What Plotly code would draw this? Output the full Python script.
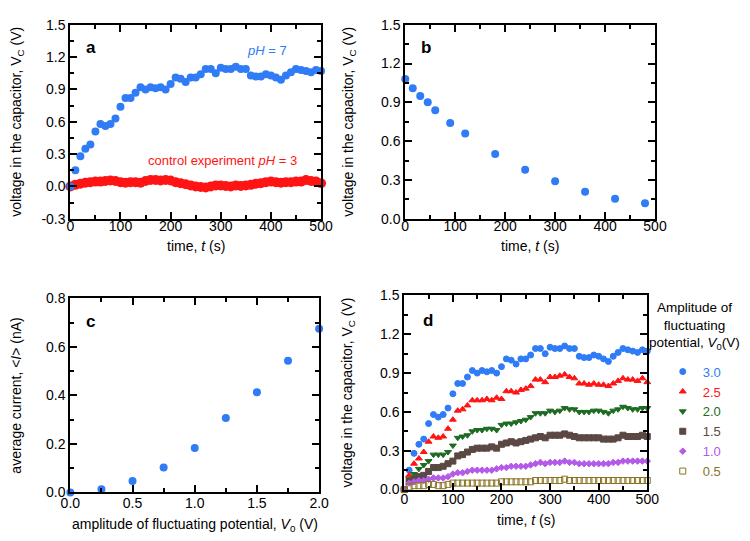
import plotly.graph_objects as go

# ---------------- data ----------------
t10 = list(range(0, 501, 10))

# panel a / d: 3.0 V (pH = 7)
v_30 = [0.0, 0.15, 0.28, 0.35, 0.39, 0.51, 0.58, 0.56, 0.58, 0.63,
        0.74, 0.82, 0.82, 0.87, 0.92, 0.90, 0.92, 0.91, 0.92, 0.90,
        0.95, 1.01, 1.00, 0.97, 1.01, 1.01, 1.04, 1.09, 1.09, 1.05,
        1.10, 1.09, 1.09, 1.11, 1.09, 1.09, 1.03, 1.02, 1.02, 1.04,
        1.03, 1.01, 0.99, 1.03, 1.06, 1.09, 1.08, 1.07, 1.06, 1.08, 1.07]

# panel a: control experiment pH = 3
v_ctrl = [0.0, 0.015, 0.025, 0.035, 0.04, 0.045, 0.045, 0.05, 0.055, 0.05,
          0.04, 0.035, 0.04, 0.04, 0.035, 0.05, 0.06, 0.06, 0.055, 0.06,
          0.055, 0.04, 0.03, 0.02, 0.01, 0.0, -0.005, -0.01, 0.0, 0.01,
          0.01, 0.005, 0.0, 0.01, 0.005, 0.01, 0.015, 0.025, 0.03, 0.04,
          0.045, 0.04, 0.035, 0.04, 0.04, 0.045, 0.045, 0.06, 0.05, 0.045, 0.03]

# panel b: discharge
t_b = [0, 15, 30, 45, 60, 90, 120, 180, 240, 300, 360, 420, 480]
v_b = [1.08, 1.01, 0.95, 0.90, 0.84, 0.74, 0.66, 0.50, 0.38, 0.29, 0.21, 0.155, 0.12]

# panel c: average current vs amplitude
amp_c = [0.0, 0.25, 0.5, 0.75, 1.0, 1.25, 1.5, 1.75, 2.0]
cur_c = [0.0, 0.013, 0.047, 0.103, 0.183, 0.307, 0.413, 0.543, 0.675]

# panel d: other amplitudes
v_25 = [0.0, 0.11, 0.20, 0.24, 0.29, 0.37, 0.41, 0.40, 0.41, 0.47,
        0.54, 0.61, 0.62, 0.65, 0.69, 0.69, 0.69, 0.70, 0.69, 0.71,
        0.70, 0.76, 0.76, 0.75, 0.77, 0.78, 0.80, 0.85, 0.85, 0.83,
        0.87, 0.87, 0.88, 0.89, 0.87, 0.86, 0.82, 0.82, 0.81, 0.82,
        0.81, 0.81, 0.80, 0.82, 0.84, 0.86, 0.85, 0.85, 0.84, 0.86, 0.83]
v_20 = [0.0, 0.08, 0.12, 0.16, 0.19, 0.22, 0.27, 0.27, 0.27, 0.29,
        0.34, 0.40, 0.41, 0.42, 0.45, 0.46, 0.46, 0.47, 0.47, 0.46,
        0.50, 0.51, 0.51, 0.52, 0.53, 0.54, 0.56, 0.59, 0.59, 0.59,
        0.61, 0.60, 0.61, 0.63, 0.62, 0.62, 0.60, 0.60, 0.60, 0.61,
        0.61, 0.60, 0.59, 0.61, 0.62, 0.64, 0.63, 0.62, 0.62, 0.63, 0.63]
v_15 = [0.0, 0.06, 0.08, 0.10, 0.11, 0.14, 0.17, 0.17, 0.18, 0.20,
        0.22, 0.26, 0.27, 0.29, 0.31, 0.32, 0.32, 0.32, 0.33, 0.32,
        0.35, 0.36, 0.37, 0.36, 0.37, 0.38, 0.39, 0.40, 0.41, 0.40,
        0.42, 0.42, 0.42, 0.43, 0.42, 0.41, 0.40, 0.40, 0.40, 0.40,
        0.40, 0.39, 0.39, 0.39, 0.40, 0.42, 0.41, 0.41, 0.41, 0.42, 0.41]
v_10 = [0.0, 0.05, 0.06, 0.07, 0.07, 0.08, 0.09, 0.09, 0.09, 0.10,
        0.12, 0.13, 0.13, 0.14, 0.15, 0.15, 0.15, 0.15, 0.15, 0.16,
        0.17, 0.17, 0.18, 0.18, 0.18, 0.18, 0.19, 0.20, 0.21, 0.20,
        0.21, 0.21, 0.21, 0.22, 0.21, 0.21, 0.20, 0.20, 0.20, 0.20,
        0.20, 0.20, 0.20, 0.21, 0.21, 0.22, 0.22, 0.22, 0.22, 0.22, 0.22]
v_05 = [0.0, 0.02, 0.03, 0.03, 0.03, 0.04, 0.04, 0.03, 0.03, 0.04,
        0.05, 0.05, 0.05, 0.05, 0.05, 0.05, 0.05, 0.05, 0.05, 0.05,
        0.06, 0.06, 0.06, 0.06, 0.06, 0.06, 0.06, 0.07, 0.07, 0.07,
        0.07, 0.07, 0.07, 0.08, 0.07, 0.07, 0.07, 0.07, 0.07, 0.07,
        0.07, 0.07, 0.07, 0.07, 0.07, 0.07, 0.07, 0.07, 0.07, 0.07, 0.07]

legend_labels = ["3.0", "2.5", "2.0", "1.5", "1.0", "0.5"]

ya_vals = [-0.3, 0.0, 0.3, 0.6, 0.9, 1.2, 1.5]
ya_text = ["-0.3", "0.0", "0.3", "0.6", "0.9", "1.2", "1.5"]

# ---------------- styling ----------------
BLUE = "#2f7cf6"
RED = "#ff1414"
GREEN = "#1d6b22"
BROWN = "#5b4843"
PURPLE = "#b459e8"
OLIVE = "#8a7424"
FONT = "Liberation Sans, Arial, sans-serif"

fig = go.Figure()

# panel a
fig.add_trace(go.Scatter(x=t10, y=v_ctrl, mode="markers", xaxis="x", yaxis="y",
                         marker=dict(color=RED, size=10), showlegend=False, cliponaxis=False))
fig.add_trace(go.Scatter(x=t10, y=v_30, mode="markers", xaxis="x", yaxis="y",
                         marker=dict(color=BLUE, size=8), showlegend=False, cliponaxis=False))
# panel b
fig.add_trace(go.Scatter(x=t_b, y=v_b, mode="markers", xaxis="x2", yaxis="y2",
                         marker=dict(color=BLUE, size=8), showlegend=False, cliponaxis=False))
# panel c
fig.add_trace(go.Scatter(x=amp_c, y=cur_c, mode="markers", xaxis="x3", yaxis="y3",
                         marker=dict(color=BLUE, size=8), showlegend=False, cliponaxis=False))
# panel d
series_d = [v_30, v_25, v_20, v_15, v_10, v_05]
colors_d = [BLUE, RED, GREEN, BROWN, PURPLE, OLIVE]
symbols_d = ["circle", "triangle-up", "triangle-down", "square", "diamond", "square-open"]
sizes_d = [6, 6, 6, 6, 5, 6]
for vals, col, sym, sz, lab in zip(series_d, colors_d, symbols_d, sizes_d, legend_labels):
    fig.add_trace(go.Scatter(
        x=t10, y=vals, mode="markers", xaxis="x4", yaxis="y4",
        marker=dict(color=col, size=sz, symbol=sym, line=dict(color=col, width=1)),
        name=f"<span style='color:{col}'>{lab}</span>", cliponaxis=False))


def ax(domain, rng, dtick, minor, anchor, **kw):
    d = dict(domain=domain, range=rng, anchor=anchor, showgrid=False, zeroline=False,
             showline=True, linecolor="black", linewidth=2, mirror="allticks",
             ticks="inside", ticklen=7, tickwidth=2, tickcolor="black",
             dtick=dtick, tick0=0,
             minor=dict(ticks="inside", ticklen=4, tickwidth=2, tickcolor="black", dtick=minor),
             tickfont=dict(size=14, color="black", family=FONT))
    d.update(kw)
    return d


W, H = 750, 541
def px(a, b):
    return [a / W, b / W]
def py(top, bot):
    return [1 - bot / H, 1 - top / H]

TF = dict(size=14, color="black", family=FONT)
yv_title = dict(text="voltage in the capacitor, V<sub>C</sub> (V)", standoff=24, font=TF)

fig.update_layout(
    width=W, height=H, margin=dict(l=0, r=0, t=0, b=0),
    paper_bgcolor="white", plot_bgcolor="white",
    font=dict(family=FONT, color="black"),
    xaxis=ax(px(52, 311), [0, 500], 100, 50, "y", ticklabelstandoff=-7),
    yaxis=ax(py(9, 209), [-0.3, 1.5], 0.3, 0.15, "x", tickvals=ya_vals, ticktext=ya_text,
             title=yv_title),
    xaxis2=ax(px(398, 656), [0, 500], 100, 50, "y2", ticklabelstandoff=-7),
    yaxis2=ax(py(9, 209), [0, 1.5], 0.3, 0.15, "x2", tickformat=".1f", title=yv_title),
    xaxis3=ax(px(52, 309), [0, 2.0], 0.5, 0.25, "y3", tickformat=".1f", ticklabelstandoff=-3),
    yaxis3=ax(py(291, 491), [0, 0.8], 0.2, 0.1, "x3", tickformat=".1f",
              title=dict(text="average current, &lt;<i>I</i>&gt; (nA)", standoff=24, font=TF)),
    xaxis4=ax(px(397, 648), [0, 500], 100, 50, "y4", ticklabelstandoff=-4),
    yaxis4=ax(py(288, 488), [0, 1.5], 0.3, 0.15, "x4", tickformat=".1f", title=yv_title),
    legend=dict(x=664 / W, y=1 - 351 / H, xanchor="left", yanchor="top",
                font=dict(size=13, family=FONT), bgcolor="rgba(0,0,0,0)",
                tracegroupgap=0, itemwidth=30),
)

anns = [
    dict(x=73 / W, y=1 - 32 / H, text="<b>a</b>", font=dict(size=17)),
    dict(x=419 / W, y=1 - 32 / H, text="<b>b</b>", font=dict(size=17)),
    dict(x=73 / W, y=1 - 315 / H, text="<b>c</b>", font=dict(size=17)),
    dict(x=422 / W, y=1 - 314 / H, text="<b>d</b>", font=dict(size=17)),
    dict(x=255 / W, y=1 - 36 / H, text="<i>pH</i> = 7", font=dict(size=13, color=BLUE)),
    dict(x=209 / W, y=1 - 149 / H, text="control experiment <i>pH</i> = 3", font=dict(size=13, color=RED)),
    dict(x=697 / W, y=1 - 319 / H,
         text="Amplitude of<br>fluctuating<br>potential, <i>V</i><sub>0</sub>(V)", font=dict(size=13.5)),
    # x-axis titles
    dict(x=181.5 / W, y=1 - 237 / H, text="time, <i>t</i> (s)", font=dict(size=14)),
    dict(x=527 / W, y=1 - 237 / H, text="time, <i>t</i> (s)", font=dict(size=14)),
    dict(x=180.5 / W, y=1 - 524 / H, text="amplitude of fluctuating potential, <i>V</i><sub>0</sub> (V)",
         font=dict(size=14)),
    dict(x=522.5 / W, y=1 - 519 / H, text="time, <i>t</i> (s)", font=dict(size=14)),
]
for a in anns:
    a.update(xref="paper", yref="paper", showarrow=False, xanchor="center", yanchor="middle")
    a["font"].setdefault("color", "black")
    a["font"]["family"] = FONT
    fig.add_annotation(**a)

fig.write_html("out.html")
